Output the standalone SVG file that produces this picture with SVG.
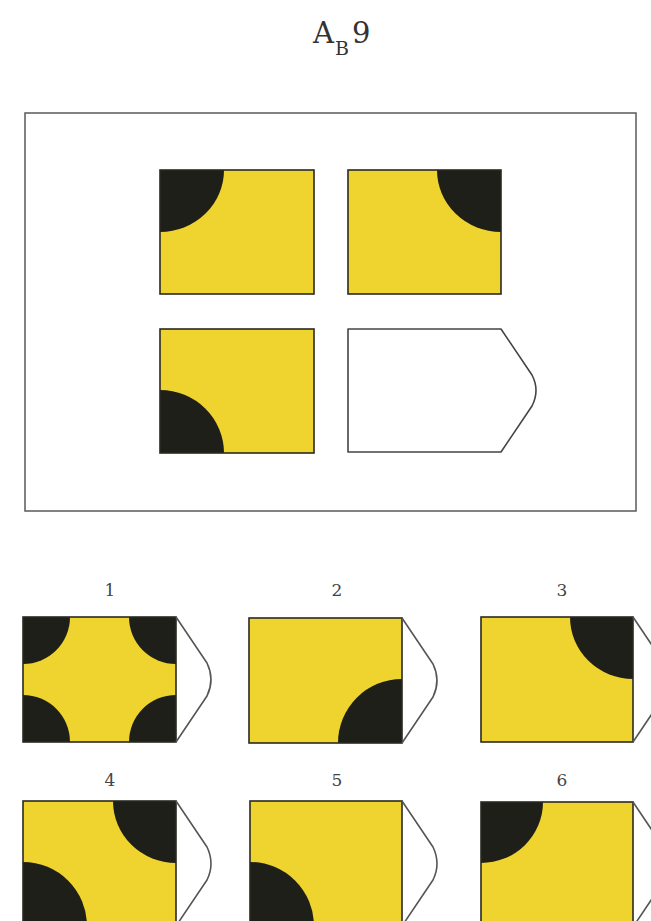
<svg xmlns="http://www.w3.org/2000/svg" width="651" height="921" viewBox="0 0 651 921">
<style>
.bg{fill:#ffffff}
.frame{fill:none;stroke:#5a5a5a;stroke-width:1.5}
.tile{fill:#efd42f}
.edge{fill:none;stroke:#2a2a22;stroke-width:1.6}
.dark{fill:#1f1f1a}
.tip{fill:none;stroke:#555555;stroke-width:1.6;stroke-linejoin:round}
.blank{fill:#ffffff;stroke:#444444;stroke-width:1.6;stroke-linejoin:round}
.lbl{font-family:"DejaVu Serif","Liberation Serif",serif;font-size:17px;fill:#444444;text-anchor:middle}
.title{font-family:"DejaVu Serif","Liberation Serif",serif;fill:#333333}
</style>
<rect class="bg" x="0" y="0" width="651" height="921"/>

<g id="title">
  <text class="title" x="313" y="43" font-size="29">A</text>
  <text class="title" x="335" y="55" font-size="19">B</text>
  <text class="title" x="352" y="43" font-size="29">9</text>
</g>

<g id="frame">
  <rect class="frame" x="25" y="113" width="611" height="398"/>
</g>

<g id="cell-1" transform="translate(160,170)">
  <rect class="tile" x="0" y="0" width="154" height="124"/>
  <path class="dark" d="M0 0 h64 A64 62 0 0 1 0 62 Z"/>
  <rect class="edge" x="0" y="0" width="154" height="124"/>
</g>

<g id="cell-2" transform="translate(348,170)">
  <rect class="tile" x="0" y="0" width="153" height="124"/>
  <path class="dark" d="M153 0 v62 A64 62 0 0 1 89 0 Z"/>
  <rect class="edge" x="0" y="0" width="153" height="124"/>
</g>

<g id="cell-3" transform="translate(160,329)">
  <rect class="tile" x="0" y="0" width="154" height="124"/>
  <path class="dark" d="M0 124 v-63 A64 63 0 0 1 64 124 Z"/>
  <rect class="edge" x="0" y="0" width="154" height="124"/>
</g>

<g id="cell-missing" transform="translate(348,329)">
  <path class="blank" d="M0 0 H153 L184 46 Q192 61.5 184 77 L153 123 H0 Z"/>
</g>

<g id="labels">
  <text class="lbl" x="110" y="596">1</text>
  <text class="lbl" x="337" y="596">2</text>
  <text class="lbl" x="562" y="596">3</text>
  <text class="lbl" x="110" y="786">4</text>
  <text class="lbl" x="337" y="786">5</text>
  <text class="lbl" x="562" y="786">6</text>
</g>

<g id="option-1" transform="translate(23,617)">
  <rect class="tile" x="0" y="0" width="153" height="125"/>
  <path class="dark" d="M0 0 h47 A47 47 0 0 1 0 47 Z"/>
  <path class="dark" d="M153 0 v47 A47 47 0 0 1 106 0 Z"/>
  <path class="dark" d="M0 125 v-47 A47 47 0 0 1 47 125 Z"/>
  <path class="dark" d="M153 125 h-47 A47 47 0 0 1 153 78 Z"/>
  <rect class="edge" x="0" y="0" width="153" height="125"/>
  <path class="tip" d="M153 0 L184 46 Q192 62.5 184 79 L153 125"/>
</g>

<g id="option-2" transform="translate(249,618)">
  <rect class="tile" x="0" y="0" width="153" height="125"/>
  <path class="dark" d="M153 125 h-64 A64 64 0 0 1 153 61 Z"/>
  <rect class="edge" x="0" y="0" width="153" height="125"/>
  <path class="tip" d="M153 0 L184 46 Q192 62.5 184 79 L153 125"/>
</g>

<g id="option-3" transform="translate(481,617)">
  <rect class="tile" x="0" y="0" width="152" height="125"/>
  <path class="dark" d="M152 0 v62 A63 62 0 0 1 89 0 Z"/>
  <rect class="edge" x="0" y="0" width="152" height="125"/>
  <path class="tip" d="M152 0 L183 46 Q191 62.5 183 79 L152 125"/>
</g>

<g id="option-4" transform="translate(23,801)">
  <rect class="tile" x="0" y="0" width="153" height="125"/>
  <path class="dark" d="M153 0 v62 A63 62 0 0 1 90 0 Z"/>
  <path class="dark" d="M0 125 v-64 A64 64 0 0 1 64 125 Z"/>
  <rect class="edge" x="0" y="0" width="153" height="125"/>
  <path class="tip" d="M153 0 L184 46 Q192 62.5 184 79 L153 125"/>
</g>

<g id="option-5" transform="translate(250,801)">
  <rect class="tile" x="0" y="0" width="152" height="125"/>
  <path class="dark" d="M0 125 v-64 A64 64 0 0 1 64 125 Z"/>
  <rect class="edge" x="0" y="0" width="152" height="125"/>
  <path class="tip" d="M152 0 L183 46 Q191 62.5 183 79 L152 125"/>
</g>

<g id="option-6" transform="translate(481,802)">
  <rect class="tile" x="0" y="0" width="152" height="125"/>
  <path class="dark" d="M0 0 h62 A62 61 0 0 1 0 61 Z"/>
  <rect class="edge" x="0" y="0" width="152" height="125"/>
  <path class="tip" d="M152 0 L183 46 Q191 62.5 183 79 L152 125"/>
</g>
</svg>
